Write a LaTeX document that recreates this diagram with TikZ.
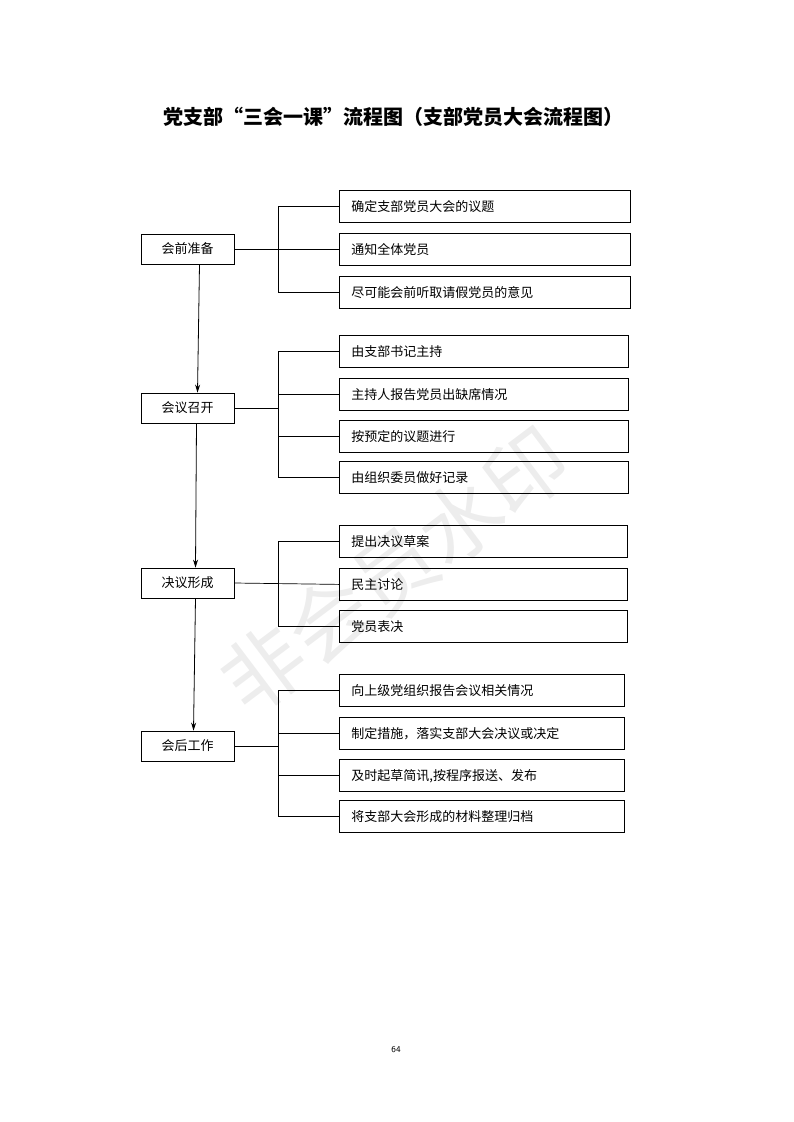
\documentclass[tikz,border=0pt]{standalone}
\usepackage{fontspec}
\newfontfamily\cjk{Noto Sans CJK SC}
\usetikzlibrary{arrows.meta}
\begin{document}
\begin{tikzpicture}[x=1pt,y=-1pt,
  lbox/.style={draw,line width=0.8pt,minimum width=93pt,minimum height=30pt,inner sep=0pt,font=\cjk\fontsize{13}{13}\selectfont},
  rbox/.style={draw,line width=0.8pt,anchor=north west,minimum height=32pt,inner sep=0pt,font=\cjk\fontsize{13}{13}\selectfont,text width=#1-24pt,align=left,text depth=0pt},
  ln/.style={line width=0.7pt},
  arr/.style={line width=0.8pt,-{Stealth[length=8pt,width=5pt]}}]
\useasboundingbox (0,0) rectangle (793,1122);
\node[rotate=37,text=black!7,font=\cjk\fontsize{82}{82}\selectfont] (wm) at (395,570) {非会员水印};
\node[font=\cjk\bfseries\fontsize{20}{20}\selectfont] (title) at (393,117) {党支部“三会一课”流程图（支部党员大会流程图）};
\node[font=\sffamily\fontsize{9}{9}\selectfont] (pg) at (396,1050) {64};
\node[lbox] (L1) at (187.5,249) {会前准备};
\node[lbox] (L2) at (187.5,408) {会议召开};
\node[lbox] (L3) at (187.5,583) {决议形成};
\node[lbox] (L4) at (187.5,746) {会后工作};
\draw[arr] ([xshift=12pt]L1.south) -- ([xshift=10pt]L2.north);
\draw[arr] ([xshift=9pt]L2.south) -- ([xshift=8pt]L3.north);
\draw[arr] ([xshift=8pt]L3.south) -- ([xshift=6pt]L4.north);
\foreach \n/\y/\t in {a1/190/确定支部党员大会的议题,a2/233/通知全体党员,a3/276/尽可能会前听取请假党员的意见}
  \node[rbox=291pt,minimum width=291pt] (\n) at (339,\y) {\t};
\foreach \n/\y/\t in {b1/335/由支部书记主持,b2/378/主持人报告党员出缺席情况,b3/420/按预定的议题进行,b4/461/由组织委员做好记录}
  \node[rbox=289pt,minimum width=289pt] (\n) at (339,\y) {\t};
\foreach \n/\y/\t in {c1/525/提出决议草案,c2/568/民主讨论,c3/610/党员表决}
  \node[rbox=288pt,minimum width=288pt] (\n) at (339,\y) {\t};
\foreach \n/\y/\t in {d1/674/向上级党组织报告会议相关情况,d2/717/制定措施，落实支部大会决议或决定,d3/759/{及时起草简讯,按程序报送、发布},d4/800/将支部大会形成的材料整理归档}
  \node[rbox=285pt,minimum width=285pt] (\n) at (339,\y) {\t};
\draw[ln] (L1.east) -- (278,249);
\draw[ln] (a1.west) -| (278,0|-a3.west) -- (a3.west);
\draw[ln] (a2.west) -- (278,0|-a2.west);
\draw[ln] (L2.east) -- (278,408);
\draw[ln] (b1.west) -| (278,0|-b4.west) -- (b4.west);
\draw[ln] (b2.west) -- (278,0|-b2.west);
\draw[ln] (b3.west) -- (278,0|-b3.west);
\draw[ln] (L3.east) -- (c2.west);
\draw[ln] (c1.west) -| (278,0|-c3.west) -- (c3.west);
\draw[ln] (L4.east) -- (278,746);
\draw[ln] (d1.west) -| (278,0|-d4.west) -- (d4.west);
\draw[ln] (d2.west) -- (278,0|-d2.west);
\draw[ln] (d3.west) -- (278,0|-d3.west);
\end{tikzpicture}
\end{document}
